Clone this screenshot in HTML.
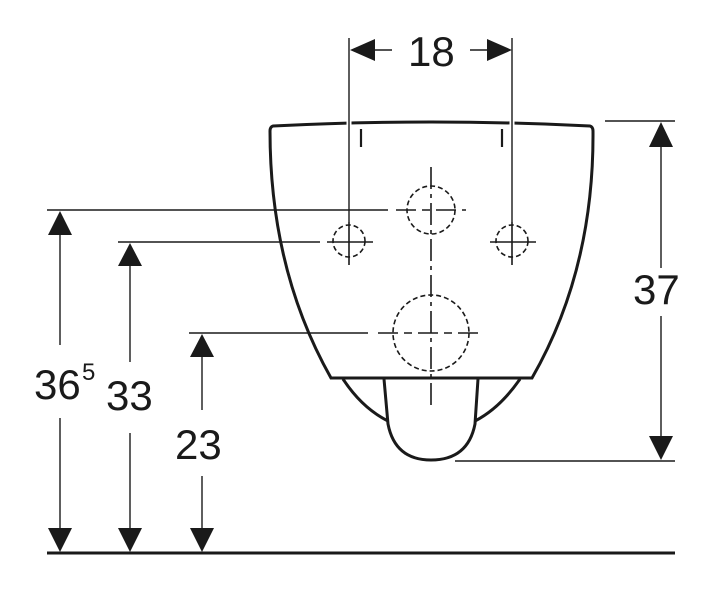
<!DOCTYPE html>
<html><head><meta charset="utf-8"><style>
html,body{margin:0;padding:0;background:#fff;}
svg{display:block;}
text{font-family:"Liberation Sans",Arial,sans-serif;fill:#1a1a1a;}
</style></head><body>
<svg width="720" height="595" viewBox="0 0 720 595" xmlns="http://www.w3.org/2000/svg">
<g stroke="#1a1a1a" fill="none">
  <line x1="47" y1="553" x2="675" y2="553" stroke-width="3"/>
  <path d="M273,126 Q431,118 590,126 Q593,127 593,131 Q594,270 532,378 L331,378 Q270,270 270,131 Q270,127 273,126 Z" stroke-width="3"/>
  <path d="M343,379 Q362,408 388,421" stroke-width="3"/>
  <path d="M520,379 Q500,408 475,421" stroke-width="3"/>
  <path d="M384,379 L388,424 Q395,460 431,460 Q468,460 475,424 L478,379" stroke-width="3"/>
  <line x1="361" y1="129" x2="361" y2="147" stroke-width="2.2"/>
  <line x1="502" y1="129" x2="502" y2="147" stroke-width="2.2"/>
  <g stroke-width="1.6" stroke-dasharray="5,3">
    <circle cx="431" cy="210" r="24"/>
    <circle cx="349" cy="241" r="16"/>
    <circle cx="512" cy="241" r="16"/>
    <circle cx="431" cy="333" r="38"/>
  </g>
  <g stroke-width="1.6">
    <line x1="431" y1="167" x2="431" y2="410" stroke-dasharray="22,5,4,5"/>
    <line x1="396" y1="210" x2="466" y2="210" stroke-dasharray="20,6,8,6"/>
    <line x1="327" y1="242" x2="373" y2="242"/>
    <line x1="490" y1="242" x2="536" y2="242"/>
    <line x1="512" y1="222" x2="512" y2="265"/>
    <line x1="349" y1="222" x2="349" y2="265"/>
    <line x1="378" y1="333" x2="484" y2="333" stroke-dasharray="20,6,8,6"/>
  </g>
  <g stroke="#fff" stroke-width="5">
    <line x1="349" y1="118" x2="349" y2="128"/>
    <line x1="512" y1="118" x2="512" y2="128"/>
  </g>
  <g stroke-width="1.4">
    <line x1="349" y1="38" x2="349" y2="222"/>
    <line x1="512" y1="38" x2="512" y2="222"/>
    <line x1="370" y1="50" x2="392" y2="50"/>
    <line x1="470" y1="50" x2="492" y2="50"/>
    <line x1="47" y1="210" x2="388" y2="210"/>
    <line x1="118" y1="242" x2="320" y2="242"/>
    <line x1="189" y1="333" x2="368" y2="333"/>
    <line x1="605" y1="121" x2="675" y2="121"/>
    <line x1="455" y1="461" x2="675" y2="461"/>
    <line x1="60" y1="230" x2="60" y2="345"/>
    <line x1="60" y1="418" x2="60" y2="535"/>
    <line x1="130" y1="262" x2="130" y2="362"/>
    <line x1="130" y1="433" x2="130" y2="535"/>
    <line x1="202" y1="353" x2="202" y2="410"/>
    <line x1="202" y1="476" x2="202" y2="535"/>
    <line x1="661" y1="140" x2="661" y2="268"/>
    <line x1="661" y1="316" x2="661" y2="442"/>
  </g>
</g>
<g fill="#1a1a1a">
  <polygon points="350,50 375,39 375,61"/>
  <polygon points="512,50 487,39 487,61"/>
  <polygon points="60,211 48,235 72,235"/>
  <polygon points="60,552 48,528 72,528"/>
  <polygon points="130,243 118,266 142,266"/>
  <polygon points="130,552 118,528 142,528"/>
  <polygon points="202,334 190,357 214,357"/>
  <polygon points="202,552 190,528 214,528"/>
  <polygon points="661,122 649,147 673,147"/>
  <polygon points="661,460 649,436 673,436"/>
</g>
<text x="408" y="66" font-size="42">18</text>
<text x="633" y="304" font-size="42">37</text>
<text x="34" y="399" font-size="42">36</text>
<text x="82" y="380" font-size="24">5</text>
<text x="106" y="410" font-size="42">33</text>
<text x="175" y="459" font-size="42">23</text>
</svg>
</body></html>
